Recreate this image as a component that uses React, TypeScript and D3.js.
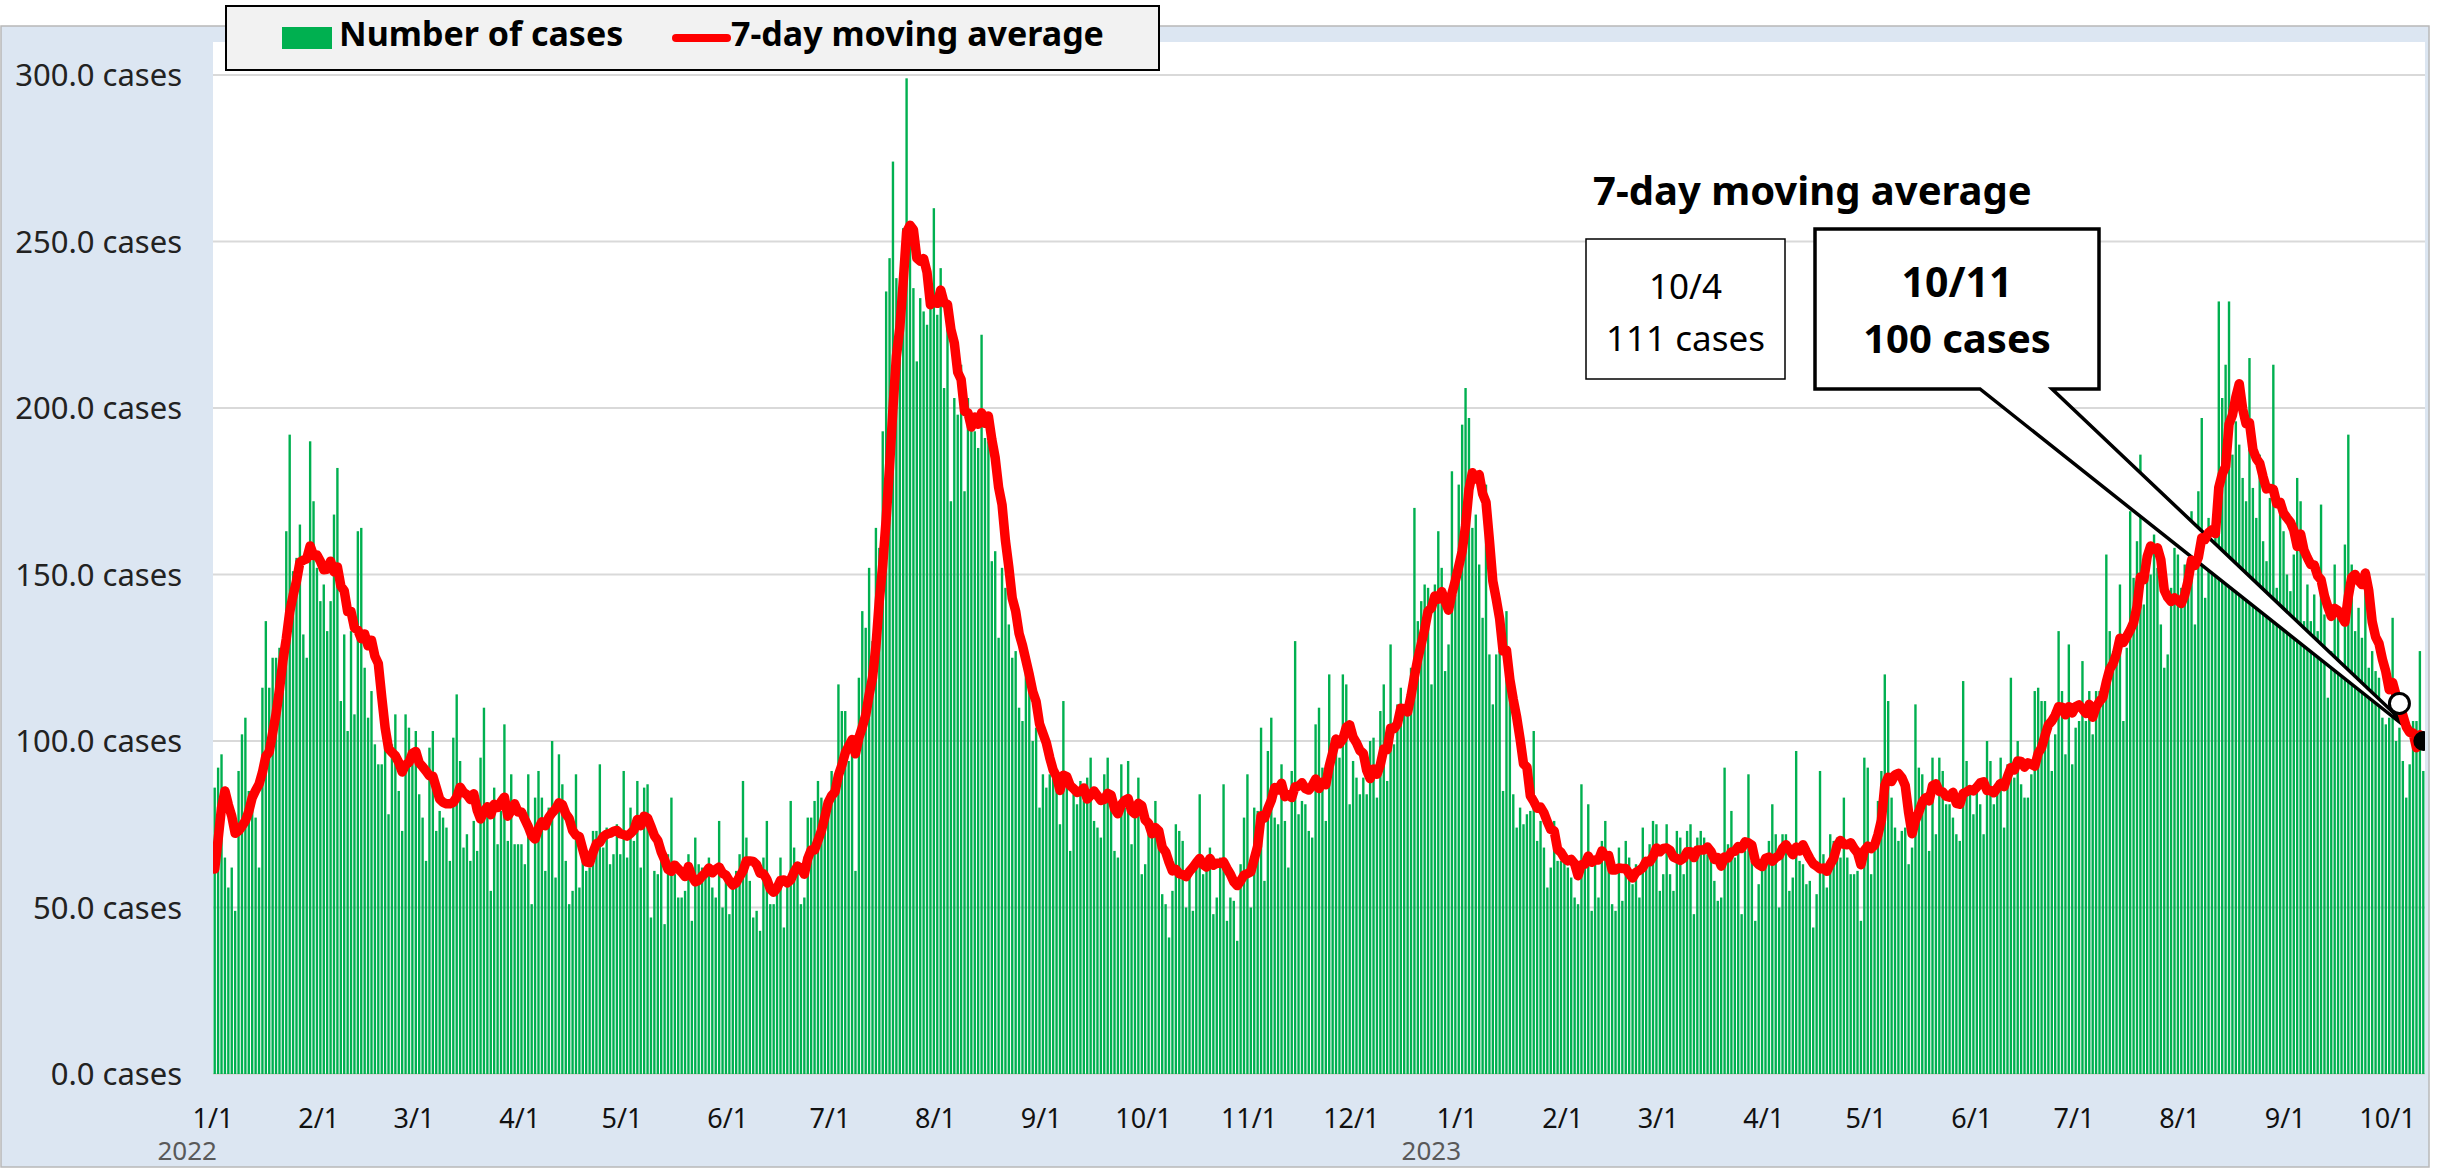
import React, { useEffect } from 'react'
import * as d3 from 'd3'

// daily number of cases, one array per month
// last 6 days of 2021, only needed to start the 7-day average on 1/1
const dec2021Tail = [30, 29, 30, 85, 86, 85]

const jan2022 = [86, 92, 96, 65, 56, 62, 49, 91, 102, 107, 85, 85, 77, 62, 116, 136, 116, 125, 125, 128, 122, 163, 192, 151, 155, 165, 132, 125, 190, 172, 152]
const feb2022 = [142, 147, 133, 142, 168, 182, 112, 132, 103, 133, 108, 163, 164, 122, 107, 115, 99, 93, 93, 99, 78, 99, 108, 85, 73, 108, 104, 97]
const mar2022 = [103, 84, 77, 64, 98, 103, 73, 79, 77, 74, 64, 101, 114, 94, 68, 72, 64, 76, 67, 95, 110, 78, 55, 86, 69, 79, 105, 70, 90, 69, 69]
const apr2022 = [69, 63, 90, 51, 83, 91, 83, 61, 80, 100, 59, 96, 87, 64, 51, 55, 90, 56, 69, 61, 62, 73, 73, 93, 68, 74, 63, 66, 75, 66]
const may2022 = [91, 65, 80, 70, 88, 62, 86, 87, 47, 61, 60, 64, 45, 66, 83, 60, 53, 53, 55, 66, 46, 71, 63, 62, 60, 65, 56, 53, 76, 50, 58]
const jun2022 = [48, 56, 61, 66, 88, 71, 58, 47, 49, 43, 65, 76, 51, 51, 56, 65, 44, 59, 82, 68, 63, 51, 53, 77, 77, 82, 88, 83, 80, 84]
const jul2022 = [91, 85, 117, 109, 109, 94, 98, 61, 119, 139, 134, 152, 130, 164, 158, 193, 235, 245, 274, 239, 224, 254, 299, 249, 236, 214, 233, 229, 225, 231, 260]
const aug2022 = [228, 242, 206, 226, 172, 203, 198, 213, 175, 203, 196, 193, 188, 222, 191, 190, 154, 157, 131, 152, 146, 135, 125, 127, 110, 106, 121, 115, 100, 104, 80]
const sep2022 = [90, 86, 90, 89, 86, 75, 112, 87, 67, 84, 81, 88, 82, 89, 95, 76, 74, 71, 90, 95, 85, 67, 65, 93, 80, 94, 69, 79, 89, 60]
const oct2022 = [63, 73, 72, 82, 72, 54, 51, 41, 55, 75, 73, 70, 50, 62, 49, 65, 84, 60, 65, 68, 48, 53, 65, 87, 46, 53, 52, 40, 63, 77, 90]
const nov2022 = [50, 80, 79, 104, 58, 97, 107, 77, 75, 93, 76, 62, 91, 130, 78, 82, 81, 73, 71, 105, 110, 92, 76, 120, 101, 100, 95, 120, 117, 81]
const dec2022 = [94, 89, 84, 89, 84, 100, 101, 83, 109, 117, 88, 129, 99, 111, 116, 108, 110, 122, 170, 136, 142, 147, 146, 117, 147, 163, 152, 121, 129, 181, 144]
const jan2023 = [177, 195, 206, 197, 164, 168, 153, 137, 177, 126, 111, 126, 127, 85, 139, 115, 84, 74, 80, 75, 78, 79, 103, 70, 76, 68, 56, 62, 76, 64, 64]
const feb2023 = [64, 62, 59, 53, 51, 87, 65, 81, 49, 64, 53, 70, 76, 66, 51, 49, 68, 52, 70, 65, 57, 63, 53, 74, 65, 69, 76, 75]
const mar2023 = [55, 60, 75, 60, 55, 73, 71, 60, 73, 75, 48, 71, 73, 71, 66, 64, 58, 52, 53, 92, 69, 79, 65, 68, 48, 67, 90, 64, 46, 57, 64]
const apr2023 = [65, 70, 81, 72, 50, 72, 72, 55, 59, 97, 64, 63, 57, 58, 44, 54, 91, 66, 56, 72, 70, 71, 65, 83, 65, 60, 60, 61, 46, 95]
const may2023 = [92, 60, 67, 82, 91, 120, 112, 83, 74, 70, 73, 74, 63, 68, 111, 92, 90, 83, 67, 95, 72, 95, 91, 81, 81, 77, 72, 70, 118, 94, 86]
const jun2023 = [78, 85, 81, 72, 100, 94, 81, 88, 95, 74, 93, 119, 89, 100, 87, 83, 83, 90, 115, 116, 112, 112, 106, 91, 102, 133, 115, 96, 129, 93]
const jul2023 = [104, 106, 124, 106, 115, 102, 115, 115, 115, 156, 133, 127, 123, 147, 106, 128, 169, 149, 160, 186, 141, 155, 150, 162, 152, 135, 122, 126, 146, 158, 156]
const aug2023 = [146, 153, 152, 169, 135, 175, 197, 143, 167, 158, 161, 232, 203, 213, 232, 186, 196, 189, 179, 172, 215, 176, 167, 186, 160, 154, 173, 213, 146, 170, 163]
const sep2023 = [150, 145, 156, 179, 172, 136, 147, 136, 144, 133, 171, 138, 113, 127, 153, 139, 121, 159, 192, 153, 133, 140, 131, 145, 122, 127, 121, 119, 107, 105]
const oct2023 = [107, 137, 100, 104, 94, 83, 93, 106, 106, 127, 91]

const yTicks = [0, 50, 100, 150, 200, 250, 300]
const seriesNames = ['Number of cases', '7-day moving average']
const calloutTitle = '7-day moving average'
const prevMark = 641 // 10/4
const lastMark = 648 // 10/11

const cases = [
  jan2022, feb2022, mar2022, apr2022, may2022, jun2022, jul2022, aug2022, sep2022, oct2022, nov2022, dec2022,
  jan2023, feb2023, mar2023, apr2023, may2023, jun2023, jul2023, aug2023, sep2023, oct2023,
].flat()

const W = 2440
const H = 1169
const plot = { left: 213, right: 2425, top: 42, bottom: 1074 }
const FONT = '"Noto Sans", "Open Sans", sans-serif'

const App = () => {
  useEffect(() => {
    document.body.style.margin = '0'
  }, [])

  const start = new Date(2022, 0, 1)
  const end = d3.timeDay.offset(start, cases.length)
  const days = d3.timeDay.range(start, end)

  const x = d3
    .scaleBand<number>()
    .domain(d3.range(cases.length))
    .range([plot.left, plot.right])
    .paddingInner(0.3)
    .paddingOuter(0.15)
  const step = x.step()
  const cx = (i: number) => (x(i) as number) + x.bandwidth() / 2
  const y = d3.scaleLinear().domain([0, 300]).range([plot.bottom, 75])

  // trailing 7-day average
  const padded = dec2021Tail.concat(cases)
  const avg = cases.map((_, i) => d3.mean(padded.slice(i, i + 7)) as number)
  const line = d3
    .line<number>()
    .x((_, i) => cx(i))
    .y((d) => y(d))

  const fmtDay = d3.timeFormat('%-m/%-d')
  const months = d3.timeMonth.range(start, end)

  const tip = [cx(lastMark), y(avg[lastMark])]
  const calloutPath = `M1815,229 H2099 V389 H2052 L${tip[0]},${tip[1]} L1980,389 H1815 Z`

  return (
    <svg width={W} height={H} style={{ display: 'block', fontFamily: FONT }}>
      <defs>
        <clipPath id="plotClip">
          <rect x={plot.left} y={plot.top} width={plot.right - plot.left} height={plot.bottom - plot.top + 20} />
        </clipPath>
      </defs>
      <rect x={1} y={26} width={2428} height={1141} fill="#dce6f2" stroke="#b8b8b8" strokeWidth={1.5} />
      <rect x={plot.left} y={plot.top} width={plot.right - plot.left} height={plot.bottom - plot.top} fill="#fff" />

      {yTicks.map((t) => (
        <g key={t}>
          <line x1={plot.left} x2={plot.right} y1={y(t)} y2={y(t)} stroke="#d9d9d9" strokeWidth={2} />
          <text x={182} y={y(t)} dy="0.36em" textAnchor="end" fontSize={31} fill="#222">
            {d3.format('.1f')(t) + ' cases'}
          </text>
        </g>
      ))}

      <g fill="#00b050">
        {cases.map((v, i) => (
          <rect key={i} x={x(i)} y={y(v)} width={x.bandwidth()} height={plot.bottom - y(v)} />
        ))}
      </g>

      <path d={calloutPath} fill="#fff" stroke="#000" strokeWidth={3.5} />

      <g clipPath="url(#plotClip)">
        <path d={line(avg) || ''} fill="none" stroke="#ff0000" strokeWidth={9.5} strokeLinejoin="round" strokeLinecap="round" />
        <circle cx={cx(prevMark)} cy={y(avg[prevMark])} r={10} fill="#fff" stroke="#000" strokeWidth={3} />
        <circle cx={tip[0]} cy={tip[1]} r={10} fill="#000" />
      </g>

      <text x={1957} y={297} textAnchor="middle" fontSize={41} fontWeight="bold">
        {fmtDay(days[lastMark])}
      </text>
      <text x={1957} y={353} textAnchor="middle" fontSize={40} fontWeight="bold">
        {Math.round(avg[lastMark]) + ' cases'}
      </text>

      <rect x={1586} y={239} width={199} height={140} fill="#fff" stroke="#000" strokeWidth={1.5} />
      <text x={1685.5} y={299} textAnchor="middle" fontSize={35}>
        {fmtDay(days[prevMark])}
      </text>
      <text x={1685.5} y={351} textAnchor="middle" fontSize={35}>
        {Math.round(avg[prevMark]) + ' cases'}
      </text>
      <text x={1593} y={205} fontSize={40} fontWeight="bold">
        {calloutTitle}
      </text>

      {months.map((m) => {
        const i = d3.timeDay.count(start, m)
        const tx = cx(i) - step / 2
        return (
          <g key={i}>
            <text x={tx} y={1128} textAnchor="middle" fontSize={27} fill="#111">
              {fmtDay(m)}
            </text>
            {m.getMonth() === 0 && (
              <text x={tx + 4} y={1160} textAnchor="end" fontSize={26} fill="#595959">
                {m.getFullYear()}
              </text>
            )}
          </g>
        )
      })}

      <g>
        <rect x={226} y={6} width={933} height={64} fill="#f2f2f2" stroke="#000" strokeWidth={2} />
        <rect x={282} y={27} width={50} height={22} fill="#00b050" />
        <text x={339} y={46} fontSize={34} fontWeight="bold">
          {seriesNames[0]}
        </text>
        <line x1={676} x2={727} y1={38} y2={38} stroke="#ff0000" strokeWidth={8} strokeLinecap="round" />
        <text x={731} y={46} fontSize={34} fontWeight="bold">
          {seriesNames[1]}
        </text>
      </g>
    </svg>
  )
}

export default App
